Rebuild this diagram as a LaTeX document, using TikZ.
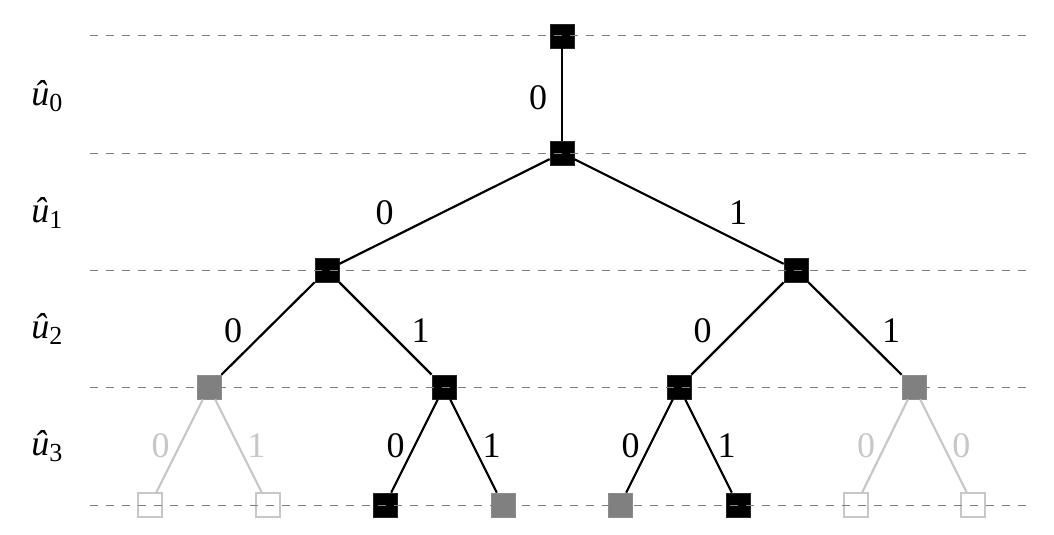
\documentclass[tikz,border=0pt]{standalone}
\usepackage{fontspec}
\setmainfont{Liberation Serif}
\newcommand{\lvl}[1]{\textit{û}\raisebox{-0.35ex}{\fontsize{13}{13}\selectfont #1}}
\begin{document}
\begin{tikzpicture}[x=0.5pt,y=-0.5pt,
  font=\fontsize{18}{20}\selectfont,
  bnode/.style={draw=black!85,fill=black,minimum size=12pt,inner sep=0pt,line width=0.4pt},
  gnode/.style={draw=black!45,fill=black!50,minimum size=12pt,inner sep=0pt,line width=0.4pt},
  wnode/.style={draw=black!22,fill=white,minimum size=11.8pt,inner sep=0pt,line width=1.1pt},
  bedge/.style={draw=black,line width=1.1pt},
  ledge/.style={draw=black!22,line width=1.1pt},
  lbl/.style={inner sep=0pt,anchor=center},
  llbl/.style={inner sep=0pt,anchor=center,text=black!22},
  level/.style={draw=black!50,line width=0.5pt,dash pattern=on 4pt off 4pt}
]
\useasboundingbox (0,0) rectangle (1054,535);
% nodes
\node[bnode] (r) at (562,36) {};
\node[bnode] (a) at (562,153) {};
\node[bnode] (b0) at (327,270) {};
\node[bnode] (b1) at (796,270) {};
\node[gnode] (c0) at (209,387) {};
\node[bnode] (c1) at (444,387) {};
\node[bnode] (c2) at (679,387) {};
\node[gnode] (c3) at (914,387) {};
\node[wnode] (d0) at (150,505) {};
\node[wnode] (d1) at (268,505) {};
\node[bnode] (d2) at (385,505) {};
\node[gnode] (d3) at (503,505) {};
\node[gnode] (d4) at (620,505) {};
\node[bnode] (d5) at (738,505) {};
\node[wnode] (d6) at (856,505) {};
\node[wnode] (d7) at (973,505) {};
% edges
\path[bedge] (r) -- node[lbl,xshift=-12pt,yshift=-1.5pt]{0} (a);
\path[bedge] (a) -- node[lbl,xshift=-30pt,yshift=-0.5pt]{0} (b0);
\path[bedge] (a) -- node[lbl,xshift=29.5pt,yshift=-0.5pt]{1} (b1);
\path[bedge] (b0) -- node[lbl,xshift=-17.5pt,yshift=-1pt]{0} (c0);
\path[bedge] (b0) -- node[lbl,xshift=17.5pt,yshift=-1pt]{1} (c1);
\path[bedge] (b1) -- node[lbl,xshift=-17.5pt,yshift=-1pt]{0} (c2);
\path[bedge] (b1) -- node[lbl,xshift=18pt,yshift=-1pt]{1} (c3);
\path[ledge] (c0) -- node[llbl,xshift=-9.5pt,yshift=0pt]{0} (d0);
\path[ledge] (c0) -- node[llbl,xshift=9pt,yshift=0pt]{1} (d1);
\path[bedge] (c1) -- node[lbl,xshift=-9.5pt,yshift=0pt]{0} (d2);
\path[bedge] (c1) -- node[lbl,xshift=9pt,yshift=0pt]{1} (d3);
\path[bedge] (c2) -- node[lbl,xshift=-9.5pt,yshift=0pt]{0} (d4);
\path[bedge] (c2) -- node[lbl,xshift=9pt,yshift=0pt]{1} (d5);
\path[ledge] (c3) -- node[llbl,xshift=-9.5pt,yshift=0pt]{0} (d6);
\path[ledge] (c3) -- node[llbl,xshift=9pt,yshift=0pt]{0} (d7);
% level labels
\node[lbl] (u0) at (47,96) {\lvl{0}};
\node[lbl] (u1) at (47,213) {\lvl{1}};
\node[lbl] (u2) at (47,329) {\lvl{2}};
\node[lbl] (u3) at (47,446) {\lvl{3}};
% dashed level lines
\foreach \yy/\nm in {36/l0,153/l1,270/l2,387/l3,505/l4}{
  \coordinate (\nm s) at (90,\yy);
  \coordinate (\nm e) at (1027,\yy);
  \draw[level] (\nm s) -- (\nm e);
}
\end{tikzpicture}
\end{document}
